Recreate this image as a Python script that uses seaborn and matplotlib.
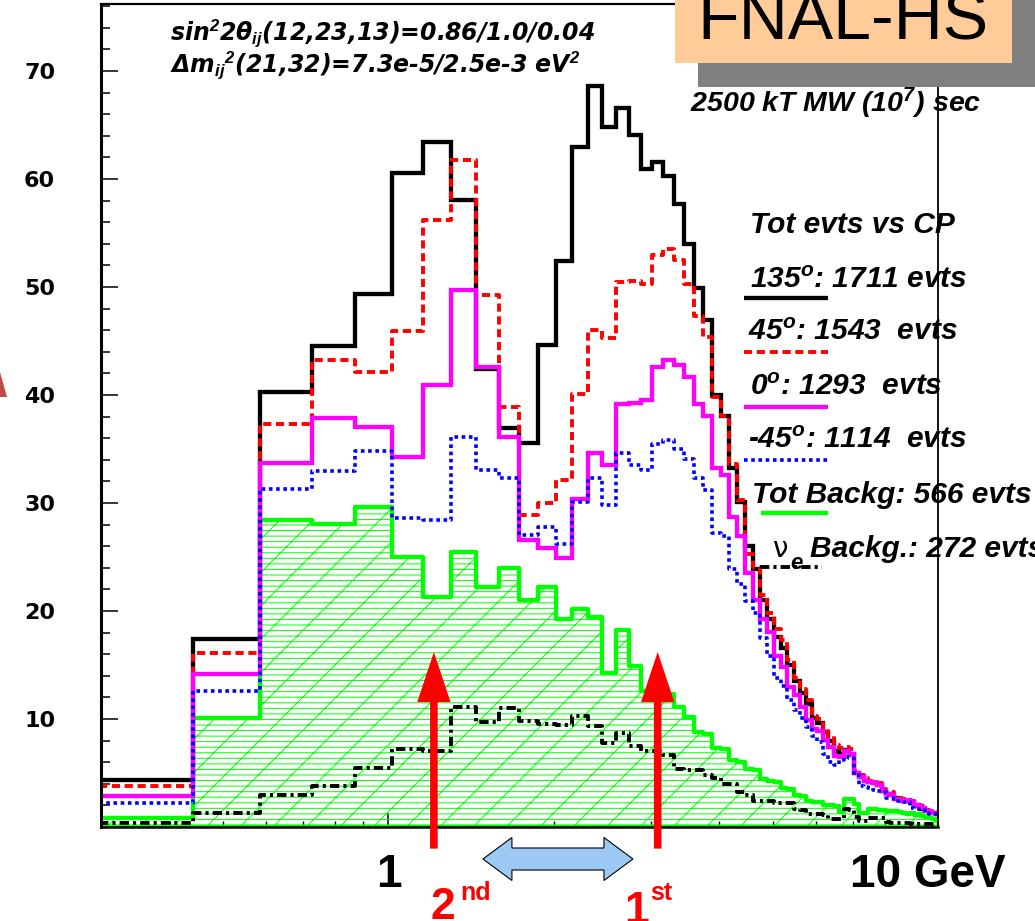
import numpy as np
import matplotlib
matplotlib.use("Agg")
import matplotlib.pyplot as plt
import seaborn as sns
from matplotlib.patches import Rectangle, Polygon
from matplotlib.lines import Line2D
from matplotlib.transforms import IdentityTransform, ScaledTranslation
from matplotlib.ticker import FixedLocator, MultipleLocator

sns.set_theme(style="ticks")
plt.rcParams["font.family"] = ["Liberation Sans", "DejaVu Sans"]
plt.rcParams["mathtext.fontset"] = "custom"
plt.rcParams["mathtext.rm"] = "Liberation Sans:bold:italic"
plt.rcParams["mathtext.it"] = "Liberation Sans:bold:italic"
plt.rcParams["mathtext.bf"] = "Liberation Sans:bold:italic"
plt.rcParams["hatch.linewidth"] = 0.7
plt.rcParams["hatch.color"] = "#00ff00"
for key in ["text.color", "axes.labelcolor", "xtick.color", "ytick.color", "axes.edgecolor"]:
    plt.rcParams[key] = "black"

# ---------------------------------------------------------------- data
# neutrino energy bins (GeV), uniform 0.1434 GeV width
energy_edges = np.round(0.0104 + 0.1434 * np.arange(2, 71), 4)

# expected event counts per bin for several CP phases
cp_135 = [4.35, 17.4, 40.25, 44.5, 49.35, 60.6, 63.4, 58.1, 42.4, 36.9,
          35.6, 44.6, 52.4, 63.0, 68.6, 64.8, 66.6, 64.1, 60.9, 61.6,
          60.3, 57.7, 54.0, 49.9, 46.9, 40.0, 38.1, 33.2, 30.1, 26.0,
          23.9, 21.0, 19.3, 17.6, 16.6, 15.0, 13.5, 12.4, 11.4, 10.1,
          9.6, 8.8, 8.0, 7.0, 6.8, 7.1, 6.8, 5.0, 4.6, 4.3,
          4.2, 4.1, 3.9, 3.3, 3.1, 3.0, 2.7, 2.5, 2.4, 2.4,
          2.3, 2.0, 1.9, 1.7, 1.5, 1.4, 1.3, 1.2]
cp_45 = [3.8, 16.1, 37.3, 43.2, 42.1, 45.9, 56.2, 61.8, 49.3, 38.9,
         28.9, 30.0, 32.1, 40.1, 46.0, 45.3, 50.5, 50.6, 50.3, 53.0,
         53.5, 52.5, 50.3, 47.3, 45.4, 39.8, 38.1, 33.6, 30.3, 25.3,
         24.1, 21.5, 19.8, 18.3, 17.3, 15.5, 13.8, 12.8, 11.8, 10.3,
         10.0, 9.2, 8.4, 7.6, 7.3, 7.4, 7.2, 5.2, 4.8, 4.5,
         4.3, 4.2, 4.1, 3.5, 3.3, 3.2, 2.9, 2.7, 2.6, 2.6,
         2.4, 2.2, 2.0, 1.9, 1.6, 1.5, 1.4, 1.3]
cp_0 = [2.87, 14.2, 33.7, 37.9, 37.05, 34.3, 40.9, 49.7, 42.6, 36.1,
        26.6, 25.8, 24.9, 30.4, 34.6, 33.5, 39.2, 39.3, 39.5, 42.6,
        43.2, 42.8, 41.7, 39.2, 38.1, 33.2, 32.6, 28.7, 26.9, 23.5,
        21.0, 19.3, 18.1, 15.8, 14.8, 13.0, 12.2, 11.1, 9.9, 9.1,
        8.9, 8.05, 7.4, 6.6, 6.5, 7.0, 6.8, 5.0, 4.6, 4.3,
        4.2, 4.1, 3.9, 3.3, 3.1, 3.0, 2.6, 2.5, 2.4, 2.5,
        2.3, 2.0, 1.9, 1.8, 1.5, 1.4, 1.3, 1.2]
cp_m45 = [2.25, 12.6, 31.3, 33.0, 34.8, 28.6, 28.4, 36.1, 33.1, 32.3,
          27.0, 27.8, 26.25, 30.1, 32.3, 29.8, 34.6, 33.5, 33.1, 35.5,
          35.8, 35.0, 34.1, 32.3, 31.2, 27.2, 26.9, 23.9, 22.5, 20.9,
          19.8, 17.5, 15.8, 13.8, 13.1, 11.8, 10.8, 10.1, 9.3, 8.4,
          7.9, 6.8, 6.0, 5.7, 6.2, 6.5, 6.4, 4.8, 3.8, 3.7,
          3.6, 3.4, 3.3, 3.2, 2.7, 2.65, 2.6, 2.4, 2.35, 2.3,
          1.8, 1.7, 1.7, 1.6, 1.3, 1.25, 1.2, 1.2]
# backgrounds
bkg_tot = [0.83, 10.05, 28.4, 28.1, 29.6, 25.0, 21.3, 25.5, 22.2, 24.0,
           21.0, 22.2, 19.3, 20.2, 19.4, 14.3, 18.2, 14.9, 12.6, 12.4,
           12.3, 11.1, 10.2, 8.8, 8.6, 7.3, 7.2, 6.2, 6.0, 5.4,
           5.3, 4.4, 4.3, 4.2, 3.6, 3.5, 3.0, 2.9, 2.4, 2.35,
           2.3, 2.0, 2.0, 1.9, 1.4, 2.6, 2.6, 2.1, 1.3, 1.3,
           1.7, 1.7, 1.6, 1.6, 1.5, 1.5, 1.5, 1.4, 1.3, 1.2,
           1.3, 1.1, 1.2, 1.0, 0.9, 0.8, 0.7, 0.6]
bkg_nue = [0.4, 1.3, 3.0, 3.8, 5.5, 7.2, 7.0, 11.1, 9.7, 11.0,
           9.85, 9.55, 9.4, 10.3, 9.35, 7.8, 8.7, 7.5, 7.0, 7.0,
           6.7, 5.4, 5.3, 5.3, 4.8, 4.5, 4.0, 4.0, 3.2, 3.0,
           2.4, 2.4, 2.4, 2.25, 2.25, 2.2, 1.65, 1.6, 1.2, 1.2,
           1.2, 1.1, 0.7, 0.7, 0.7, 1.65, 1.6, 0.9, 0.55, 0.55,
           0.8, 0.85, 0.85, 0.8, 0.5, 0.4, 0.4, 0.4, 0.35, 0.4,
           0.3, 0.3, 0.3, 0.3, 0.3, 0.3, 0.3, 0.3]

legend_labels = ["135$^{o}$: 1711 evts", "45$^{o}$: 1543  evts", "0$^{o}$: 1293  evts",
                 "-45$^{o}$: 1114  evts", "Tot Backg: 566 evts", "Backg.: 272 evts"]
osc_max_2nd = 1.21   # GeV
osc_max_1st = 3.09   # GeV
band_lo, band_hi = 1.486, 2.786  # GeV

# ---------------------------------------------------------------- figure
W, H = 1035, 921
fig = plt.figure(figsize=(W / 100, H / 100), dpi=100)
ax = fig.add_axes([101 / W, 1 - 827 / H, 837 / W, 823.5 / H])

centers = 0.5 * (energy_edges[:-1] + energy_edges[1:])
bin_list = energy_edges.tolist()

RED_DASH = (0, (2.1, 1.2))
BLUE_DOT = (0, (1.0, 1.0))
DASH_DOT = (0, (2.4, 1.05, 0.8, 1.05))

line_series = [
    (cp_135, dict(color="black", linewidth=3.1)),
    (cp_45, dict(color="#ff0000", linewidth=2.8, linestyle=RED_DASH)),
    (cp_0, dict(color="#ff00ff", linewidth=3.1)),
    (cp_m45, dict(color="#0000ff", linewidth=2.6, linestyle=BLUE_DOT)),
]
for vals, style in line_series:
    sns.histplot(x=centers, weights=vals, bins=bin_list, element="step",
                 fill=False, ax=ax, solid_joinstyle="miter", **style)

sns.histplot(x=centers, weights=bkg_tot, bins=bin_list, element="step",
             fill=True, alpha=1, color="#00ff00", facecolor="none",
             edgecolor="#00ff00", linewidth=3.1, hatch="---/", ax=ax)
sns.histplot(x=centers, weights=bkg_nue, bins=bin_list, element="step",
             fill=False, color="black", linewidth=2.8, linestyle=DASH_DOT, ax=ax)

ax.set_xscale("log")
ax.set_xlim(0.3, 10.0)
ax.set_ylim(0, 76.25)
ax.set_xlabel("")
ax.set_ylabel("")

# axes frame and ticks
for side, lw in [("left", 2.2), ("bottom", 1.8), ("top", 1.6), ("right", 1.3)]:
    ax.spines[side].set_linewidth(lw)
    ax.spines[side].set_color("black")

ax.yaxis.set_major_locator(FixedLocator([10, 20, 30, 40, 50, 60, 70]))
ax.yaxis.set_minor_locator(MultipleLocator(2))
ax.tick_params(axis="y", which="major", direction="in", length=12.5, width=1.1,
               pad=33, labelsize=16, left=True, right=False)
ax.tick_params(axis="y", which="minor", direction="in", length=6.5, width=1.1,
               left=True, right=False)
for lbl in ax.get_yticklabels():
    lbl.set_fontfamily("DejaVu Sans")
    lbl.set_fontweight("bold")

ax.xaxis.set_major_locator(FixedLocator([1, 10]))
ax.xaxis.set_minor_locator(FixedLocator([0.4, 0.5, 0.6, 0.7, 0.8, 0.9,
                                         2, 3, 4, 5, 6, 7, 8, 9]))
ax.set_xticklabels(["1", "10 GeV"])
ax.tick_params(axis="x", which="major", direction="in", length=10, width=1.1,
               pad=19, labelsize=33, bottom=True, top=False)
ax.tick_params(axis="x", which="minor", direction="in", length=4, width=1.0,
               bottom=True, top=False)
xt = ax.get_xticklabels()
for lbl in xt:
    lbl.set_fontweight("bold")
xt[1].set_transform(xt[1].get_transform() + ScaledTranslation(-0.1, 0, fig.dpi_scale_trans))

# oscillation maximum arrows
for e in (osc_max_2nd, osc_max_1st):
    ax.annotate("", xy=(e, 16.2), xytext=(e, -2.0), annotation_clip=False,
                arrowprops=dict(facecolor="#ff0000", edgecolor="none", width=5.5,
                                headwidth=24, headlength=36, shrink=0))


def px(x, y):
    return x / W, 1 - y / H


txt_kw = dict(fontweight="bold", fontstyle="italic", va="baseline", ha="left")

# parameter block, top left
fig.text(*px(170, 40), "sin$^{2}$2θ$_{ij}$(12,23,13)=0.86/1.0/0.04",
         fontfamily="DejaVu Sans", fontsize=17, **txt_kw)
fig.text(*px(170, 72), "Δm$_{ij}$$^{2}$(21,32)=7.3e-5/2.5e-3 eV$^{2}$",
         fontfamily="DejaVu Sans", fontsize=17, **txt_kw)
fig.text(*px(690, 112), "2500 kT MW (10$^{7}$) sec", fontsize=20.5, **txt_kw)

# legend block
fig.text(*px(750, 233), "Tot evts vs CP", fontsize=21.5, **txt_kw)
legend_rows = [
    (750, 288, 298, 744, dict(color="black", linewidth=3.1)),
    (748, 340, 352, 744, dict(color="#ff0000", linewidth=2.8, linestyle=RED_DASH)),
    (750, 395, 407, 744, dict(color="#ff00ff", linewidth=3.1)),
    (748, 448, 460, 744, dict(color="#0000ff", linewidth=2.6, linestyle=BLUE_DOT)),
    (752, 503, 513, 761, dict(color="#00ff00", linewidth=3.1)),
]
for label, (tx, ty, ly, lx0, style) in zip(legend_labels[:5], legend_rows):
    fig.text(*px(tx, ty), label, fontsize=21.5, **txt_kw)
    fig.add_artist(Line2D([lx0 / W, 828 / W], [1 - ly / H, 1 - ly / H],
                          transform=fig.transFigure, solid_capstyle="butt", **style))
fig.text(*px(772, 557), "ν", fontfamily="DejaVu Sans", fontsize=20,
         va="baseline", ha="left")
fig.text(*px(790, 569), "e", fontsize=16, **txt_kw)
fig.text(*px(810, 557), legend_labels[5], fontsize=21.5, **txt_kw)
fig.add_artist(Line2D([760 / W, 822 / W], [1 - 567 / H, 1 - 567 / H],
                      transform=fig.transFigure, color="black", linewidth=2.8,
                      linestyle=DASH_DOT))

# title tag with shadow
fig.add_artist(Rectangle(px(698, 87), (W - 698) / W, 87 / H, transform=fig.transFigure,
                         facecolor="#808080", edgecolor="none", zorder=5))
fig.add_artist(Rectangle(px(675, 63), 337 / W, 63 / H, transform=fig.transFigure,
                         facecolor="#ffcc99", edgecolor="none", zorder=6))
fig.text(*px(697, 40), "FNAL-HS", fontsize=49, va="baseline", ha="left", zorder=7)

# oscillation-maximum labels
red_kw = dict(color="#ff0000", fontweight="bold", va="baseline", ha="left")
fig.text(*px(431, 919), "2", fontsize=32, **red_kw)
fig.text(*px(460, 900), "nd", fontsize=18, **red_kw)
fig.text(*px(624, 923), "1", fontsize=32, **red_kw)
fig.text(*px(650, 900), "st", fontsize=18, **red_kw)

# double arrow spanning the band between the two maxima
xa = ax.transData.transform((band_lo, 1.0))[0]
xb = ax.transData.transform((band_hi, 1.0))[0]
yc = H - 859
hl, hh, bh = 29, 21.5, 11
verts = [(xa, yc), (xa + hl, yc + hh), (xa + hl, yc + bh), (xb - hl, yc + bh),
         (xb - hl, yc + hh), (xb, yc), (xb - hl, yc - hh), (xb - hl, yc - bh),
         (xa + hl, yc - bh), (xa + hl, yc - hh)]
fig.add_artist(Polygon(verts, closed=True, transform=IdentityTransform(),
                       facecolor="#9dcaf5", edgecolor="black", linewidth=0.8))

# fragment of an arrow head at the left edge
fig.add_artist(Polygon([px(0, 372), px(7, 397), px(0, 397)], closed=True,
                       transform=fig.transFigure, facecolor="#bf4b47", edgecolor="none"))

fig.savefig("out.png", dpi=100)
